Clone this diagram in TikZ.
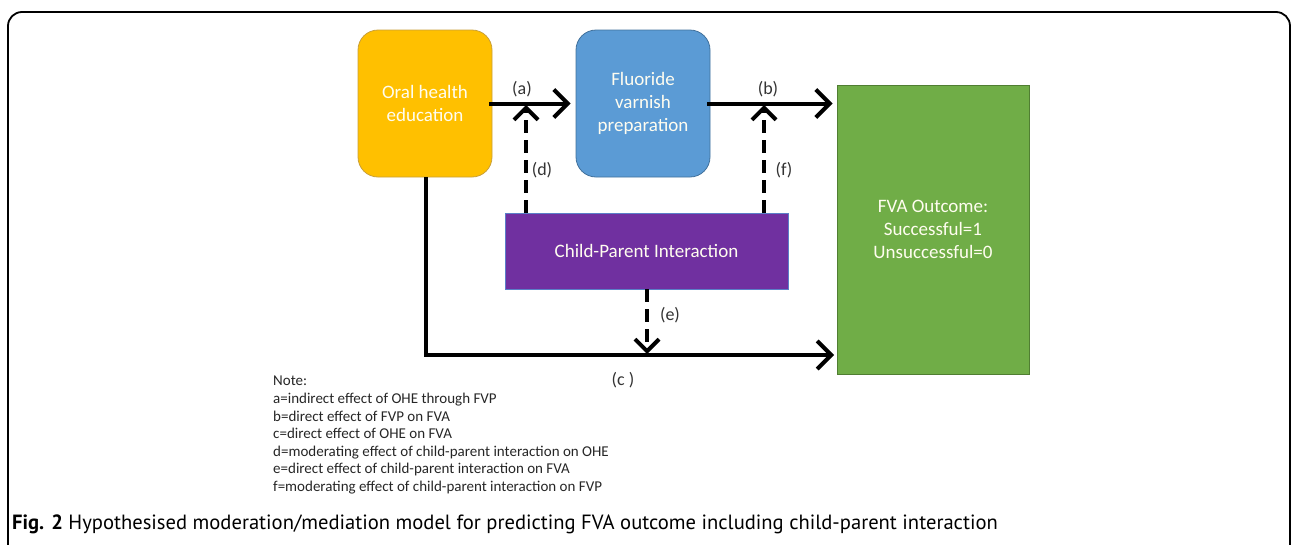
\documentclass[tikz,border=0pt]{standalone}
\usepackage{fontspec}
\setmainfont{Carlito}
\newfontfamily\capfont{PT Sans}
\usetikzlibrary{arrows.meta}
\definecolor{ohe}{HTML}{FFC000}
\definecolor{ohedraw}{HTML}{C9A03A}
\definecolor{fvp}{HTML}{5B9BD5}
\definecolor{fvpdraw}{HTML}{41719C}
\definecolor{fva}{HTML}{70AD47}
\definecolor{fvadraw}{HTML}{507E32}
\definecolor{cpi}{HTML}{7030A0}
\definecolor{cpidraw}{HTML}{5B7FC8}
\definecolor{boxtext}{HTML}{FFFDF0}
\tikzset{
  box/.style={draw, line width=0.8pt, text=boxtext, align=center, font=\fontsize{19}{23}\selectfont, inner sep=0pt},
  rbox/.style={box, rounded corners=20pt},
  arr/.style={line width=4pt, -{Straight Barb[length=14pt,width=28pt,line width=4pt]}},
  darr/.style={line width=4pt, dash pattern=on 13pt off 7pt, -{Straight Barb[length=12pt,width=24pt,line width=4pt]}},
  lab/.style={font=\fontsize{18}{21}\selectfont, text=black!80, inner sep=0pt},
}
\begin{document}
\begin{tikzpicture}[x=1pt,y=-1pt]
\useasboundingbox (0,0) rectangle (1292,544);
\begin{scope}
\clip (0,0) rectangle (1292,544);
\draw[line width=1.8pt, rounded corners=14pt] (8,570) -- (8,12) -- (1290,12) -- (1290,570);
\end{scope}
\node[rbox, fill=ohe, draw=ohedraw, minimum width=134pt, minimum height=147pt] (ohe) at (425,103.5) {Oral health\\education};
\node[rbox, fill=fvp, draw=fvpdraw, minimum width=134pt, minimum height=147pt] (fvp) at (643,103.5) {Fluoride\\varnish\\preparation};
\node[box, fill=fva, draw=fvadraw, minimum width=192pt, minimum height=289pt] (fva) at (933,229.5) {FVA Outcome:\\Successful=1\\Unsuccessful=0};
\node[box, fill=cpi, draw=cpidraw, minimum width=283pt, minimum height=76pt] (cpi) at (646.5,251) {Child-Parent Interaction};
\coordinate (da) at (526,105);
\coordinate (fa) at (764,105);
\coordinate (ec) at (647,354);
\coordinate (ctip) at (834,355);
\draw[arr, shorten <=-3pt] (ohe.east) -- ([xshift=-5pt]fvp.west);
\draw[arr, shorten <=-3pt] (fvp.east) -- ([xshift=-4pt]fva.west |- fvp.east);
\draw[darr] (cpi.north -| da) -- (da);
\draw[darr] (cpi.north -| fa) -- (fa);
\draw[darr] (cpi.south -| ec) -- (ec);
\draw[arr] (ohe.south -| 426,0) |- (ctip);
\node[lab] (la) at (522,89) {(a)};
\node[lab] (lb) at (768,89) {(b)};
\node[lab] (ld) at (542,170) {(d)};
\node[lab] (lf) at (784,170) {(f)};
\node[lab] (le) at (670,315) {(e)};
\node[lab] (lc) at (623,380) {(c )};
\node[anchor=north west, align=left, inner sep=0pt, text=black!85, font=\fontsize{15}{17.6}\selectfont] (note) at (273,376) {Note:\\a=indirect effect of OHE through FVP\\b=direct effect of FVP on FVA\\c=direct effect of OHE on FVA\\d=moderating effect of child-parent interaction on OHE\\e=direct effect of child-parent interaction on FVA\\f=moderating effect of child-parent interaction on FVP};
\node[anchor=west, inner sep=0pt, font=\capfont\fontsize{20.6}{24}\selectfont] (cap) at (12,524) {\textbf{Fig. 2} Hypothesised moderation/mediation model for predicting FVA outcome including child-parent interaction};
\end{tikzpicture}
\end{document}
